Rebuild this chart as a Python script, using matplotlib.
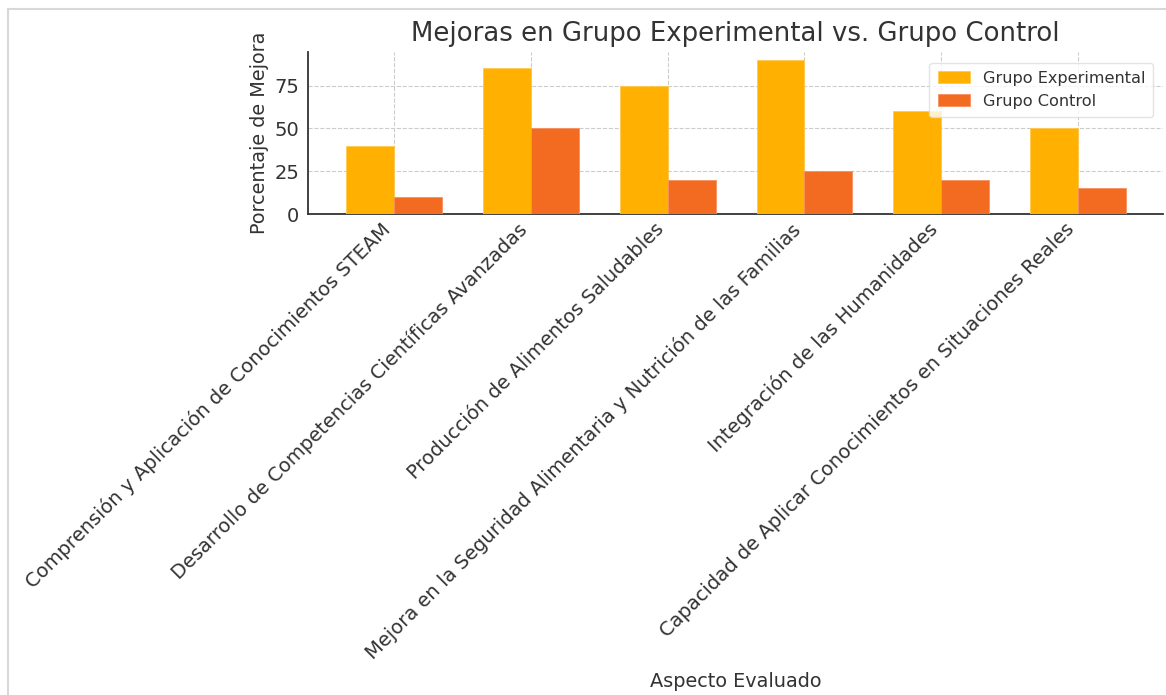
import matplotlib
matplotlib.use("Agg")
import matplotlib.pyplot as plt
from matplotlib.lines import Line2D
import numpy as np

aspectos = [
    "Comprensión y Aplicación de Conocimientos STEAM",
    "Desarrollo de Competencias Científicas Avanzadas",
    "Producción de Alimentos Saludables",
    "Mejora en la Seguridad Alimentaria y Nutrición de las Familias",
    "Integración de las Humanidades",
    "Capacidad de Aplicar Conocimientos en Situaciones Reales",
]
experimental = [40, 85, 75, 90, 60, 50]
control = [10, 50, 20, 25, 20, 15]

texto = "#333333"
fig = plt.figure(figsize=(11.66, 6.95), dpi=100)
ax = fig.add_axes([0.264, 0.692, 0.7334, 0.233])

x = np.arange(len(aspectos))
w = 0.35
ax.bar(x - w / 2, experimental, w, color="#FFB000", edgecolor="#FFC850", linewidth=0.6,
       label="Grupo Experimental", zorder=3)
ax.bar(x + w / 2, control, w, color="#F26B21", edgecolor="#F89060", linewidth=0.6,
       label="Grupo Control", zorder=3)

ax.set_xlim(-0.63, 5.62)
ax.set_ylim(0, 94.5)
ax.set_yticks([0, 25, 50, 75])
ax.set_xticks(x)
ax.set_xticklabels(aspectos, rotation=45, ha="right", fontsize=14, color=texto)
ax.tick_params(axis="y", length=0, labelsize=14, labelcolor=texto, pad=6)
ax.tick_params(axis="x", direction="in", length=4, width=1.2, color=texto, pad=4)

ax.grid(True, linestyle="--", color="#cccccc", linewidth=0.8, zorder=0)
for s in ["top", "right"]:
    ax.spines[s].set_visible(False)
for s in ["left", "bottom"]:
    ax.spines[s].set_color(texto)
    ax.spines[s].set_linewidth(1.3)

ax.set_title("Mejoras en Grupo Experimental vs. Grupo Control", fontsize=18.7, color=texto, pad=8)
ax.set_ylabel("Porcentaje de Mejora", fontsize=13.9, color=texto, labelpad=4)
ax.set_xlabel("Aspecto Evaluado", fontsize=13.9, color=texto)
ax.xaxis.set_label_coords(0.5, -2.83)

leg = ax.legend(loc="upper right", fontsize=11.6, frameon=True, borderpad=0.5,
                bbox_to_anchor=(0.998, 0.985))
leg.get_frame().set_edgecolor("#dddddd")
for t in leg.get_texts():
    t.set_color(texto)

# marco gris de la captura
fig.add_artist(Line2D([0.007, 1.0], [0.987, 0.987], color="#d8d8d8", linewidth=1.5))
fig.add_artist(Line2D([0.007, 0.007], [0.0, 0.987], color="#d8d8d8", linewidth=1.5))

fig.savefig("out.png", dpi=100)
